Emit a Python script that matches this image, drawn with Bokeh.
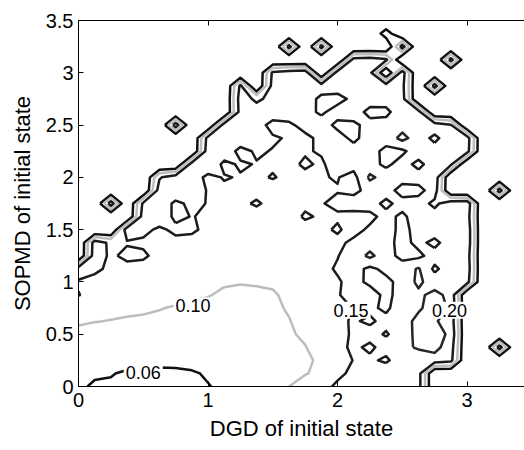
import numpy as np
from bokeh.plotting import figure
from bokeh.models import Range1d, LinearAxis, Label, FixedTicker, CustomLabelingPolicy
from bokeh.embed import file_html
from bokeh.resources import INLINE

# grid coordinates (DGD along x, SOPMD along y), step 0.125
grid_x = np.linspace(0.0, 3.5, 29)
grid_y = np.linspace(0.0, 3.5, 29)

# value, in thousandths, one row per SOPMD value (bottom row first)
z_permille = [
    [70, 52, 55, 58, 52, 50, 48, 50, 58, 68, 78, 85, 92, 100, 115, 135, 158, 175, 165, 185, 175, 170, 0, 0, 0, 0, 0, 0, 0],
    [75, 68, 62, 55, 52, 50, 50, 55, 65, 72, 80, 86, 90, 94, 98, 108, 140, 160, 175, 190, 185, 170, 0, 0, 0, 0, 0, 0, 0],
    [80, 78, 76, 74, 72, 72, 74, 76, 80, 82, 85, 88, 90, 92, 96, 104, 125, 152, 160, 140, 185, 175, 180, 165, 0, 0, 0, 0, 0],
    [88, 84, 82, 80, 80, 82, 84, 86, 88, 90, 90, 92, 93, 95, 99, 112, 135, 160, 140, 170, 190, 205, 215, 175, 0, 0, 175, 0, 0],
    [92, 88, 86, 85, 85, 86, 88, 90, 91, 92, 93, 94, 95, 97, 104, 118, 138, 155, 168, 145, 175, 215, 220, 190, 0, 0, 0, 0, 0],
    [104, 101, 99, 97, 96, 95, 95, 96, 96, 96, 96, 96, 96, 99, 108, 122, 140, 155, 142, 165, 185, 210, 205, 180, 0, 0, 0, 0, 0],
    [115, 112, 108, 106, 104, 101, 98, 96, 95, 94, 94, 95, 96, 102, 112, 125, 142, 151, 160, 140, 180, 195, 215, 195, 0, 0, 0, 0, 0],
    [152, 130, 122, 118, 115, 112, 108, 104, 101, 97, 96, 96, 97, 106, 118, 132, 148, 160, 172, 138, 168, 190, 215, 185, 0, 0, 0, 0, 0],
    [145, 135, 130, 125, 122, 118, 115, 110, 104, 102, 101, 102, 104, 112, 122, 135, 145, 165, 140, 135, 170, 210, 175, 190, 170, 0, 0, 0, 0],
    [175, 160, 140, 130, 127, 124, 120, 117, 114, 112, 110, 110, 112, 118, 126, 138, 155, 170, 138, 165, 175, 205, 140, 178, 180, 0, 0, 0, 0],
    [0, 180, 140, 165, 160, 130, 127, 124, 120, 117, 115, 115, 117, 122, 130, 140, 148, 172, 212, 170, 135, 138, 172, 185, 175, 0, 0, 0, 0],
    [0, 175, 140, 145, 140, 140, 135, 130, 127, 124, 122, 120, 122, 127, 133, 140, 140, 160, 175, 168, 132, 165, 135, 180, 185, 0, 0, 0, 0],
    [0, 0, 0, 180, 165, 140, 162, 160, 135, 132, 130, 128, 128, 130, 135, 142, 155, 135, 158, 172, 135, 168, 180, 170, 185, 0, 0, 0, 0],
    [0, 0, 0, 0, 175, 185, 138, 152, 142, 138, 135, 133, 132, 134, 155, 145, 145, 132, 138, 165, 140, 175, 172, 190, 175, 0, 0, 0, 0],
    [0, 0, 180, 0, 160, 180, 140, 160, 148, 145, 142, 155, 138, 140, 142, 148, 158, 175, 170, 138, 168, 172, 138, 180, 185, 0, 0, 0, 0],
    [0, 0, 0, 0, 0, 175, 185, 165, 148, 142, 140, 138, 137, 138, 140, 145, 148, 136, 168, 172, 130, 134, 175, 0, 0, 0, 175, 0, 0],
    [0, 0, 0, 0, 0, 145, 180, 175, 138, 153, 147, 145, 152, 143, 145, 148, 152, 134, 210, 180, 170, 172, 185, 0, 0, 0, 0, 0, 0],
    [0, 0, 0, 0, 0, 0, 0, 175, 185, 140, 155, 148, 146, 145, 153, 147, 160, 168, 170, 138, 172, 135, 180, 160, 0, 0, 0, 0, 0],
    [0, 0, 0, 0, 0, 0, 0, 0, 180, 175, 138, 155, 148, 147, 148, 152, 165, 175, 170, 136, 140, 178, 172, 175, 170, 0, 0, 0, 0],
    [0, 0, 0, 0, 0, 0, 0, 0, 170, 185, 175, 165, 155, 146, 135, 165, 175, 135, 180, 172, 215, 175, 138, 180, 175, 0, 0, 0, 0],
    [0, 0, 0, 0, 0, 0, 180, 0, 0, 175, 180, 170, 135, 138, 172, 178, 135, 138, 170, 172, 180, 165, 180, 155, 0, 0, 0, 0, 0],
    [0, 0, 0, 0, 0, 0, 0, 0, 0, 0, 170, 175, 175, 185, 170, 140, 175, 180, 132, 136, 185, 170, 0, 0, 0, 0, 0, 0, 0],
    [0, 0, 0, 0, 0, 0, 0, 0, 0, 0, 175, 140, 165, 175, 175, 138, 130, 165, 180, 175, 170, 0, 0, 0, 0, 0, 0, 0, 0],
    [0, 0, 0, 0, 0, 0, 0, 0, 0, 0, 160, 0, 170, 180, 165, 175, 180, 160, 185, 175, 165, 0, 175, 0, 0, 0, 0, 0, 0],
    [0, 0, 0, 0, 0, 0, 0, 0, 0, 0, 0, 0, 160, 175, 180, 0, 175, 185, 165, 0, 175, 0, 0, 0, 0, 0, 0, 0, 0],
    [0, 0, 0, 0, 0, 0, 0, 0, 0, 0, 0, 0, 0, 0, 0, 0, 0, 170, 175, 160, 0, 0, 0, 170, 0, 0, 0, 0, 0],
    [0, 0, 0, 0, 0, 0, 0, 0, 0, 0, 0, 0, 0, 170, 0, 170, 0, 0, 0, 0, 175, 0, 0, 0, 0, 0, 0, 0, 0],
    [0, 0, 0, 0, 0, 0, 0, 0, 0, 0, 0, 0, 0, 0, 0, 0, 0, 0, 0, 90, 0, 0, 0, 0, 0, 0, 0, 0, 0],
    [0, 0, 0, 0, 0, 0, 0, 0, 0, 0, 0, 0, 0, 0, 0, 0, 0, 0, 0, 0, 0, 0, 0, 0, 0, 0, 0, 0, 0],
]

levels = [0.06, 0.10, 0.15, 0.20]
level_colors = ["#111111", "#bdbdbd", "#1c1c1c", "#262626"]

label_text = ["0.06", "0.10", "0.15", "0.20"]
label_x = [0.50, 0.885, 2.105, 2.865]
label_y = [0.13, 0.77, 0.73, 0.73]

x_ticks = [0, 1, 2, 3]
x_tick_labels = ["0", "1", "2", "3"]
y_ticks = [0, 0.5, 1, 1.5, 2, 2.5, 3, 3.5]
y_tick_labels = ["0", "0.5", "1", "1.5", "2", "2.5", "3", "3.5"]

FONT = "Liberation Sans"

p = figure(width=524, height=450, output_backend="svg", toolbar_location=None,
           x_range=Range1d(0, 3.444), y_range=Range1d(0, 3.5),
           min_border_left=78, min_border_right=0, min_border_top=20,
           min_border_bottom=64)
p.outline_line_color = None
p.grid.visible = False
p.background_fill_color = "white"

X, Y = np.meshgrid(grid_x, grid_y)
Z = np.array(z_permille, dtype=float) / 1000.0
p.contour(X, Y, Z, levels=levels, line_color=level_colors, line_width=2.5,
          line_join="round")

for t, lx, ly in zip(label_text, label_x, label_y):
    p.add_layout(Label(x=lx, y=ly, text=t, text_align="center",
                       text_baseline="middle", text_font=FONT,
                       text_font_size="18px", text_color="black",
                       background_fill_color="white", padding=2))

xa = p.xaxis[0]
ya = p.yaxis[0]
xa.ticker = FixedTicker(ticks=x_ticks)
ya.ticker = FixedTicker(ticks=y_ticks)
xa.major_label_overrides = {t: s for t, s in zip(x_ticks, x_tick_labels)}
ya.major_label_overrides = {t: s for t, s in zip(y_ticks, y_tick_labels)}
for ax in (xa, ya):
    ax.major_tick_in = 5
    ax.major_tick_out = 0
    ax.minor_tick_line_color = None
    ax.axis_line_color = "black"
    ax.major_tick_line_color = "black"
    ax.major_label_text_font = FONT
    ax.major_label_text_font_size = "20px"
    ax.major_label_text_color = "black"
    ax.axis_label_text_font = FONT
    ax.axis_label_text_font_size = "22px"
    ax.axis_label_text_font_style = "normal"
    ax.axis_label_text_color = "black"
xa.axis_label = "DGD of initial state"
ya.axis_label = "SOPMD of initial state"
xa.major_label_standoff = 6
ya.major_label_standoff = 5
xa.axis_label_standoff = 6
ya.axis_label_standoff = 8

hide_all = CustomLabelingPolicy(code="""
const n = indices.size;
for (let i = 0; i < n; i++) { indices.set(i, false); }
return indices;
""")
top = LinearAxis(ticker=FixedTicker(ticks=x_ticks), major_tick_in=5,
                 major_tick_out=0, minor_tick_line_color=None,
                 major_label_policy=hide_all, major_label_text_font_size="10px",
                 axis_line_color="black")
p.add_layout(top, "above")

open("out.html", "w").write(file_html(p, INLINE))
